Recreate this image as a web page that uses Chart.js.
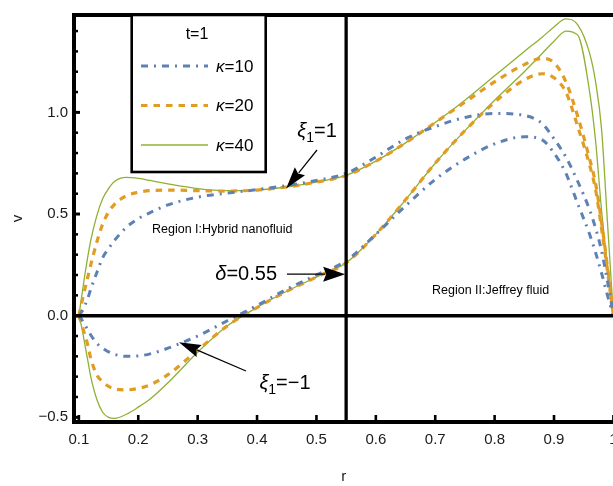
<!DOCTYPE html>
<html><head><meta charset="utf-8">
<script src="https://cdn.jsdelivr.net/npm/chart.js@4.4.1/dist/chart.umd.min.js"></script>
<style>html,body{margin:0;padding:0;background:#fff;overflow:hidden;width:613px;height:486px}canvas{display:block}</style>
</head><body>
<canvas id="c" width="640" height="486"></canvas>
<script>
// ---- data ----
const r = [0.1,0.105,0.11,0.115,0.12,0.13,0.14,0.15,0.16,0.18,0.2,0.22,0.25,0.3,0.35,0.4,0.45,0.5,0.55,0.6,0.65,0.7,0.75,0.8,0.85,0.88,0.9,0.92,0.94,0.96,0.97,0.98,0.99,0.995,1.0];
// xi1 = 1 (upper family)
const vK10Up = [0,0.02,0.05,0.085,0.13,0.21,0.285,0.33,0.37,0.435,0.477,0.507,0.545,0.583,0.603,0.62,0.64,0.665,0.70,0.78,0.87,0.93,0.975,0.995,0.985,0.945,0.87,0.78,0.66,0.52,0.43,0.32,0.17,0.09,0];
const vK20Up = [0,0.065,0.13,0.19,0.25,0.36,0.45,0.51,0.548,0.59,0.607,0.615,0.618,0.615,0.613,0.618,0.633,0.657,0.69,0.76,0.85,0.95,1.05,1.15,1.235,1.265,1.245,1.15,0.98,0.77,0.65,0.46,0.24,0.12,0];
const vK40Up = [0,0.10,0.20,0.29,0.37,0.49,0.575,0.625,0.66,0.68,0.675,0.665,0.648,0.625,0.615,0.618,0.633,0.657,0.69,0.76,0.85,0.95,1.06,1.18,1.30,1.37,1.42,1.46,1.43,1.29,1.15,0.92,0.46,0.23,0];
// xi1 = -1 (lower family)
const vK10Lo = [0,-0.02,-0.045,-0.07,-0.095,-0.135,-0.16,-0.178,-0.19,-0.2,-0.198,-0.188,-0.16,-0.1,-0.025,0.05,0.13,0.20,0.27,0.40,0.54,0.67,0.77,0.845,0.88,0.865,0.80,0.70,0.55,0.40,0.31,0.21,0.10,0.05,0];
const vK20Lo = [0,-0.045,-0.095,-0.145,-0.21,-0.29,-0.325,-0.348,-0.36,-0.365,-0.358,-0.34,-0.29,-0.17,-0.05,0.04,0.12,0.19,0.26,0.40,0.57,0.75,0.91,1.05,1.16,1.19,1.17,1.10,0.93,0.74,0.62,0.43,0.22,0.11,0];
const vK40Lo = [0,-0.06,-0.14,-0.22,-0.30,-0.41,-0.475,-0.50,-0.505,-0.485,-0.45,-0.41,-0.33,-0.18,-0.05,0.04,0.12,0.19,0.26,0.40,0.57,0.75,0.91,1.06,1.20,1.29,1.35,1.40,1.38,1.10,0.86,0.52,0.25,0.12,0];

const seriesLabels = ['κ=10','κ=20','κ=40'];
const xTickValues = [0.1,0.2,0.3,0.4,0.5,0.6,0.7,0.8,0.9,1.0];
const xTickLabels = ['0.1','0.2','0.3','0.4','0.5','0.6','0.7','0.8','0.9','1'];
const yTickValues = [-0.5,-0.4,-0.3,-0.2,-0.1,0,0.1,0.2,0.3,0.4,0.5,0.6,0.7,0.8,0.9,1.0,1.1,1.2,1.3,1.4];
const yMajorValues = [-0.5,0,0.5,1.0];
const yMajorLabels = ['\u22120.5','0.0','0.5','1.0'];
const deltaR = 0.55;

// ---- styles ----
const FONT = '"Liberation Sans", Arial, sans-serif';
const styles = [
  {borderColor:'#5e81b5', borderWidth:3, borderDash:[7,6,2,6]},
  {borderColor:'#e19c24', borderWidth:3.2, borderDash:[6.5,6]},
  {borderColor:'#8fb032', borderWidth:1.3, borderDash:[]}
];
const pts = arr => arr.map((v,i)=>({x:r[i], y:v}));
const datasets = [];
[[vK10Up,vK20Up,vK40Up],[vK10Lo,vK20Lo,vK40Lo]].forEach(group=>{
  group.forEach((arr,k)=>{
    datasets.push(Object.assign({label:seriesLabels[k], data:pts(arr), pointRadius:0, fill:false,
      cubicInterpolationMode:'monotone', borderCapStyle:'butt'}, styles[k]));
  });
});

function findIdx(list, v){ return list.findIndex(t=>Math.abs(t-v)<1e-6); }

const overlay = {
  id:'overlay',
  afterDraw(chart){
    const ctx = chart.ctx, xs = chart.scales.x, ys = chart.scales.y, ca = chart.chartArea;
    const X = v=>xs.getPixelForValue(v), Y = v=>ys.getPixelForValue(v);
    const line=(x1,y1,x2,y2)=>{ctx.beginPath();ctx.moveTo(x1,y1);ctx.lineTo(x2,y2);ctx.stroke();};
    ctx.save();
    ctx.strokeStyle='#000'; ctx.fillStyle='#000'; ctx.lineCap='butt';
    // reference lines
    ctx.lineWidth=3.6; line(ca.left, Y(0), ca.right, Y(0));
    ctx.lineWidth=3.3; line(X(deltaR), ca.top, X(deltaR), ca.bottom);
    // frame
    ctx.lineWidth=4;
    line(ca.left, ca.top, ca.right+2, ca.top);
    line(ca.left, ca.bottom, ca.right+2, ca.bottom);
    line(ca.left, ca.top-2, ca.left, ca.bottom+2);
    // y ticks (inside)
    yTickValues.forEach(v=>{
      const major = findIdx(yMajorValues,v)>=0;
      ctx.lineWidth = major?3:2.5;
      line(ca.left, Y(v), ca.left+(major?6:4), Y(v));
    });
    // x ticks (inside)
    xTickValues.forEach(v=>{ ctx.lineWidth=2.6; line(X(v), ca.bottom, X(v), ca.bottom-7); });

    // legend box
    const lx0 = 131.7, lx1 = 265.7, ly1 = 172;
    ctx.fillStyle='#fff'; ctx.fillRect(lx0, ca.top, lx1-lx0, ly1-ca.top);
    ctx.lineWidth=2.6; ctx.strokeStyle='#000';
    ctx.strokeRect(lx0, ca.top, lx1-lx0, ly1-ca.top);
    ctx.fillStyle='#000'; ctx.textBaseline='middle';
    ctx.font = '16px '+FONT; ctx.textAlign='center';
    ctx.fillText('t=1', 197, 35);
    const rows = [66, 105.5, 145];
    for(let k=0;k<3;k++){
      const st = styles[k];
      ctx.save(); ctx.strokeStyle=st.borderColor; ctx.lineWidth=st.borderWidth; ctx.setLineDash(st.borderDash);
      line(141, rows[k], 208, rows[k]); ctx.restore();
      ctx.textAlign='left';
      ctx.font='italic 17px '+FONT; ctx.fillText('κ', 216, rows[k]+1);
      const w = ctx.measureText('κ').width;
      ctx.font='17px '+FONT; ctx.fillText(seriesLabels[k].slice(1), 216+w, rows[k]+1);
    }

    // arrows
    function arrow(x1,y1,x2,y2,hl,hw){
      const a=Math.atan2(y2-y1,x2-x1), c=Math.cos(a), s=Math.sin(a);
      const bx=x2-hl*c, by=y2-hl*s;
      ctx.lineWidth=1.2; line(x1,y1,bx+2*c,by+2*s);
      ctx.beginPath(); ctx.moveTo(x2,y2);
      ctx.lineTo(bx+hw/2*s, by-hw/2*c);
      ctx.lineTo(bx+3*c, by+3*s);
      ctx.lineTo(bx-hw/2*s, by+hw/2*c);
      ctx.closePath(); ctx.fill();
    }
    function subText(greek, sub, rest, x, y, align){
      ctx.textBaseline='alphabetic';
      ctx.font='italic 20px '+FONT; const w1=ctx.measureText(greek).width;
      ctx.font='14px '+FONT; const w2=sub?ctx.measureText(sub).width:0;
      ctx.font='20px '+FONT; const w3=ctx.measureText(rest).width;
      const tot=w1+w2+w3; let x0 = align==='right'? x-tot : align==='center'? x-tot/2 : x;
      ctx.textAlign='left';
      ctx.font='italic 20px '+FONT; ctx.fillText(greek, x0, y);
      if(sub){ ctx.font='14px '+FONT; ctx.fillText(sub, x0+w1, y+5); }
      ctx.font='20px '+FONT; ctx.fillText(rest, x0+w1+w2, y);
    }
    ctx.fillStyle='#000'; ctx.strokeStyle='#000';
    // xi1 = 1
    subText('ξ','1','=1', 317, 137, 'center');
    arrow(317,150, X(0.449), Y(0.626), 22, 13);
    // delta
    subText('δ','','=0.55', 277, 280, 'right');
    arrow(287, Y(0.204), X(deltaR)-1, Y(0.204), 22, 15);
    // xi1 = -1
    subText('ξ','1','=\u22121', 285, 389, 'center');
    arrow(246,371, X(0.2685), Y(-0.131), 22, 13);

    // region labels
    ctx.font='12.5px '+FONT; ctx.textBaseline='middle'; ctx.textAlign='left'; ctx.fillStyle='#000';
    ctx.fillText('Region I:Hybrid nanofluid', 152, 230);
    ctx.fillText('Region II:Jeffrey fluid', 432, 291);
    ctx.restore();
  }
};

new Chart(document.getElementById('c'), {
  type:'line',
  data:{datasets},
  options:{
    responsive:false, animation:false, devicePixelRatio:1,
    layout:{padding:{top:9, right:640-613.4, left:0, bottom:0}},
    plugins:{legend:{display:false}, tooltip:{enabled:false}},
    scales:{
      x:{type:'linear', min:0.0918, max:1.0,
        afterBuildTicks:s=>{s.ticks=xTickValues.map(v=>({value:v}));},
        afterFit:s=>{s.height=64;},
        ticks:{autoSkip:false, maxRotation:0, padding:9, color:'#1a1a1a', font:{family:FONT,size:15},
          callback:v=>{const i=findIdx(xTickValues,v);return i>=0?xTickLabels[i]:'';}},
        grid:{display:false, drawTicks:false}, border:{display:false},
        title:{display:true, text:'r', color:'#1a1a1a', font:{family:FONT,size:15}, padding:{top:0,bottom:0}}
      },
      y:{type:'linear', min:-0.523, max:1.479,
        afterBuildTicks:s=>{s.ticks=yTickValues.map(v=>({value:v}));},
        afterFit:s=>{s.width=74;},
        ticks:{autoSkip:false, padding:6, color:'#1a1a1a', font:{family:FONT,size:15},
          callback:v=>{const i=findIdx(yMajorValues,v);return i>=0?yMajorLabels[i]:'';}},
        grid:{display:false, drawTicks:false}, border:{display:false},
        title:{display:true, text:'v', color:'#1a1a1a', font:{family:FONT,size:15}, padding:{top:9,bottom:0}}
      }
    }
  },
  plugins:[overlay]
});
</script>
</body></html>
